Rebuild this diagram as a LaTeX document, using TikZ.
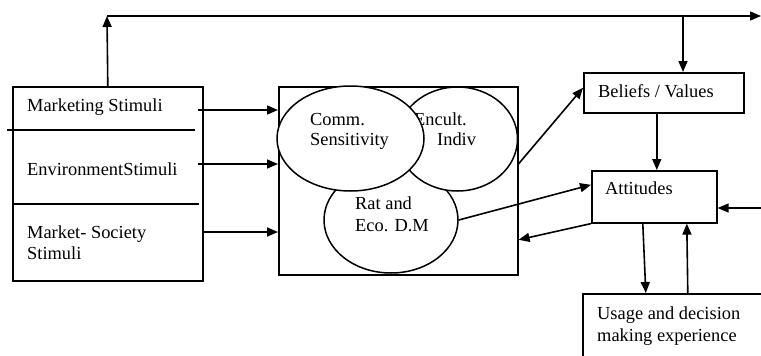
\documentclass[tikz,border=0pt]{standalone}
\usepackage{fontspec}
\setmainfont{Liberation Serif}
\usetikzlibrary{arrows.meta,shapes.geometric}
\begin{document}
\begin{tikzpicture}[x=1pt,y=-1pt,
  every node/.style={font=\fontsize{18.4}{22}\selectfont},
  box/.style={draw,line width=1.6pt,rectangle,inner sep=0,anchor=north west},
  ell/.style={draw,ellipse,fill=white,line width=1.5pt,inner sep=0},
  lbl/.style={anchor=base west,inner sep=0},
  arr/.style={line width=1.6pt,-{Triangle[length=11pt,width=9pt]}},
  ln/.style={line width=1.6pt}]
\useasboundingbox[fill=white] (0,0) rectangle (761,356);
\clip (0,0) rectangle (761,356);
% boxes
\node[box,minimum width=190pt,minimum height=194pt] (left) at (12,86) {};
\node[box,minimum width=239pt,minimum height=188pt] (cbox) at (278,86) {};
\node[box,minimum width=160pt,minimum height=40pt] (bv) at (583,72) {};
\node[box,minimum width=125pt,minimum height=52pt] (att) at (591,170) {};
\node[box,minimum width=200pt,minimum height=80pt] (use) at (582,293) {};
% separators in left box
\draw[ln] (7,130) -- (195,130);
\draw[ln] (12,204) -- (199,204);
% left texts
\node[lbl] (t1) at (27,111) {Marketing Stimuli};
\node[lbl] (t2) at (27,175) {EnvironmentStimuli};
\node[lbl] (t3) at (27,238) {Market- Society};
\node[lbl] (t3b) at (27,259) {Stimuli};
% ellipses
\node[ell,minimum width=134pt,minimum height=106pt] (rat) at (391,220) {};
\node[ell,minimum width=120pt,minimum height=104pt] (enc) at (457.5,139) {};
\node[lbl] (te1) at (414,125) {Encult.};
\node[lbl] (te2) at (437,145) {Indiv};
\node[ell,minimum width=147pt,minimum height=105pt] (comm) at (350.5,138.5) {};
\node[lbl] (tc1) at (310,125) {Comm.};
\node[lbl] (tc2) at (310,145) {Sensitivity};
\node[lbl] (tr1) at (355,209) {Rat and};
\node[lbl] (tr2) at (355,231) {Eco. D.M};
% right texts
\node[lbl] (tb) at (598,97) {Beliefs / Values};
\node[lbl] (ta) at (605,194) {Attitudes};
\node[lbl] (tu1) at (597,319) {Usage and decision};
\node[lbl] (tu2) at (597,341) {making experience};
% coordinates
\coordinate (a1) at (198,110);
\coordinate (a2) at (198,164);
\coordinate (a3) at (202,232);
\coordinate (tl) at (107,16);
\coordinate (tr) at (761,16);
\coordinate (td) at (683,16);
\coordinate (rin) at (761,208);
% stimulus arrows
\draw[arr] (a1) -- (a1 -| cbox.west);
\draw[arr] (a2) -- (a2 -| cbox.west);
\draw[arr] (a3) -- (a3 -| cbox.west);
% feedback top line
\draw[arr] (left.north) -- (tl);
\draw[arr] (tl) -- (tr);
\draw[arr] (td) -- (td |- bv.north);
% center to beliefs
\draw[arr] ([yshift=17pt]cbox.east) -- ([yshift=5pt]bv.west);
% beliefs to attitudes
\draw[arr] ([xshift=-7pt]bv.south) -- ([xshift=2.5pt]att.north);
% rat to attitudes
\draw[arr] (rat.east) -- ([yshift=12pt]att.west);
% attitudes to center box
\draw[arr] (att.south west) -- ([yshift=-59pt]cbox.east);
% right input
\draw[arr] (rin) -- (rin -| att.east);
% attitudes <-> usage
\draw[arr] ([xshift=-11.5pt]att.south) -- ([xshift=-37pt]use.north);
\draw[arr] ([xshift=5pt]use.north) -- ([xshift=32.5pt]att.south);
\end{tikzpicture}
\end{document}
